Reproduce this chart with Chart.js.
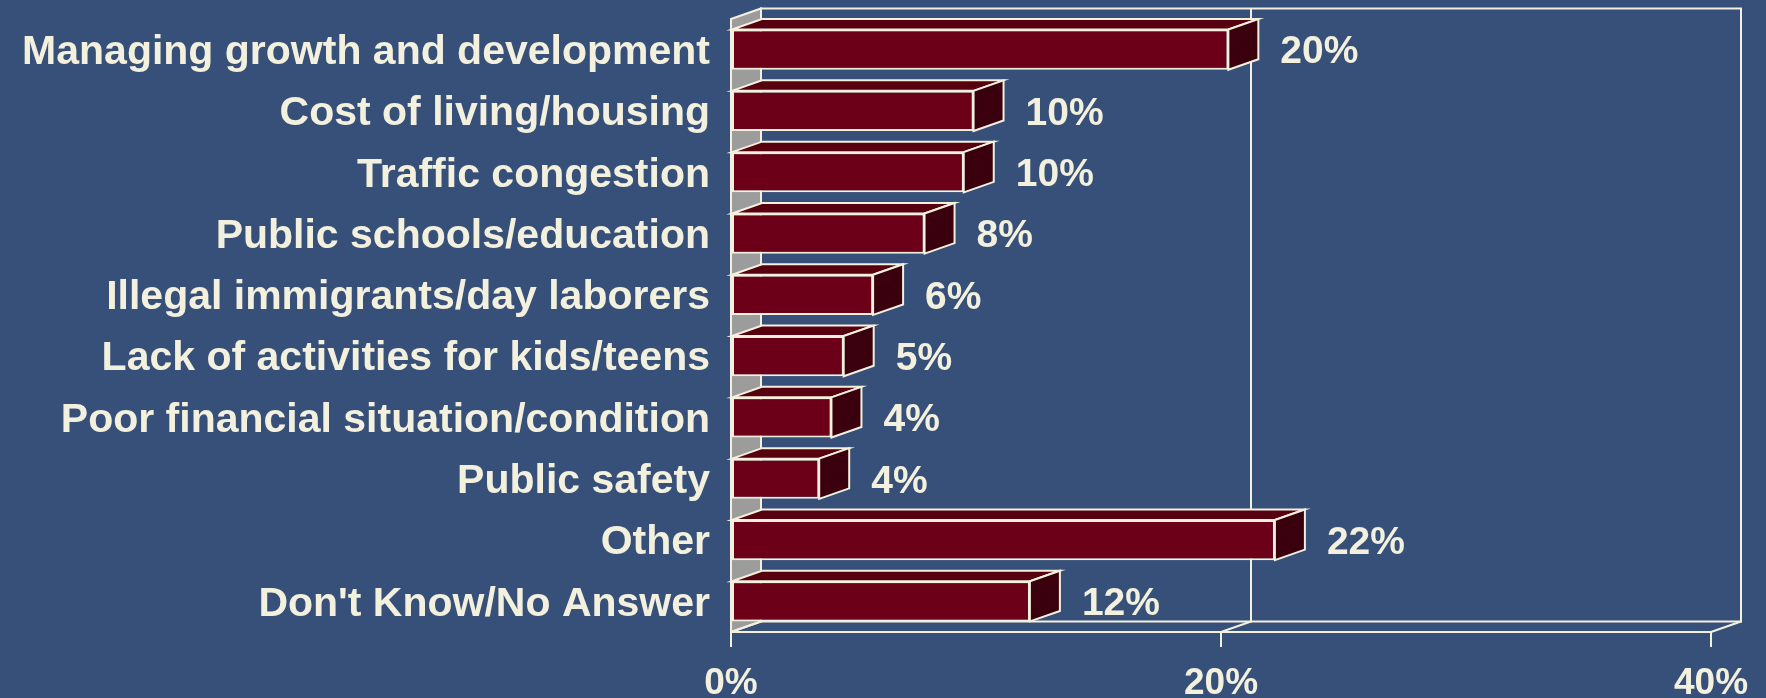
<!DOCTYPE html>
<html>
<head>
<meta charset="utf-8">
<script src="https://cdn.jsdelivr.net/npm/chart.js@4"></script>
<style>
  html, body { margin: 0; padding: 0; background: #36507a; }
  #wrap { width: 1766px; height: 698px; }
</style>
</head>
<body>
<div id="wrap"><canvas id="issuesChart"></canvas></div>
<script>
// Categories (top to bottom) and share of answers in percent
const categories = [
    'Managing growth and development',
    'Cost of living/housing',
    'Traffic congestion',
    'Public schools/education',
    'Illegal immigrants/day laborers',
    'Lack of activities for kids/teens',
    'Poor financial situation/condition',
    'Public safety',
    'Other',
    "Don't Know/No Answer"
];
const shares = [20.3, 9.9, 9.5, 7.9, 5.8, 4.6, 4.1, 3.6, 22.2, 12.2];
const axisTicks = [0, 20, 40];

const cream = '#f3f0de';
const depthX = 30;   // 3d depth offset, px
const depthY = 10.5;
const fontFamily = '"Liberation Sans", Arial, sans-serif';

// back wall, gray side wall, floor and grid lines
const wallsPlugin = {
    id: 'walls',
    beforeDatasetsDraw(chart) {
        const ctx = chart.ctx;
        const area = chart.chartArea;
        const xs = chart.scales.x;
        ctx.save();
        ctx.lineWidth = 2;
        ctx.strokeStyle = cream;

        // left (gray) wall
        ctx.beginPath();
        ctx.moveTo(area.left, area.top);
        ctx.lineTo(area.left + depthX, area.top - depthY);
        ctx.lineTo(area.left + depthX, area.bottom - depthY);
        ctx.lineTo(area.left, area.bottom);
        ctx.closePath();
        ctx.fillStyle = '#9c9c9c';
        ctx.fill();
        ctx.stroke();

        // back wall
        ctx.strokeRect(area.left + depthX, area.top - depthY,
            area.right - area.left, area.bottom - area.top);

        // grid lines on back wall + floor
        axisTicks.forEach(v => {
            const px = xs.getPixelForValue(v);
            ctx.beginPath();
            ctx.moveTo(px, area.bottom);
            ctx.lineTo(px + depthX, area.bottom - depthY);
            ctx.lineTo(px + depthX, area.top - depthY);
            ctx.stroke();
        });

        // floor front edge
        ctx.beginPath();
        ctx.moveTo(area.left, area.bottom);
        ctx.lineTo(area.right, area.bottom);
        ctx.stroke();
        ctx.restore();
    }
};

// top and side faces of the bars, plus value labels
const barsPlugin = {
    id: 'bars3d',
    afterDatasetsDraw(chart) {
        const ctx = chart.ctx;
        const meta = chart.getDatasetMeta(0);
        ctx.save();
        ctx.lineWidth = 2;
        ctx.strokeStyle = cream;
        meta.data.forEach((bar, i) => {
            const top = bar.y - bar.height / 2;
            const bottom = bar.y + bar.height / 2;

            // top face
            ctx.beginPath();
            ctx.moveTo(bar.base, top);
            ctx.lineTo(bar.base + depthX, top - depthY);
            ctx.lineTo(bar.x + depthX, top - depthY);
            ctx.lineTo(bar.x, top);
            ctx.closePath();
            ctx.fillStyle = '#560010';
            ctx.fill();
            ctx.stroke();

            // side face
            ctx.beginPath();
            ctx.moveTo(bar.x, top);
            ctx.lineTo(bar.x + depthX, top - depthY);
            ctx.lineTo(bar.x + depthX, bottom - depthY);
            ctx.lineTo(bar.x, bottom);
            ctx.closePath();
            ctx.fillStyle = '#3b000e';
            ctx.fill();
            ctx.stroke();

            // value label
            ctx.fillStyle = cream;
            ctx.font = 'bold 39px ' + fontFamily;
            ctx.textAlign = 'left';
            ctx.textBaseline = 'middle';
            ctx.fillText(Math.round(shares[i]) + '%', bar.x + depthX + 22, bar.y + 3);
        });
        ctx.restore();
    }
};

const ctx = document.getElementById('issuesChart').getContext('2d');
const issuesChart = new Chart(ctx, {
    type: 'bar',
    data: {
        labels: categories,
        datasets: [{
            data: shares,
            backgroundColor: '#6d0019',
            borderColor: cream,
            borderWidth: 2,
            borderSkipped: false,
            barPercentage: 0.656,
            categoryPercentage: 1
        }]
    },
    options: {
        indexAxis: 'y',
        responsive: true,
        maintainAspectRatio: false,
        animation: false,
        layout: {
            padding: { top: 19, right: 55, left: 0, bottom: 0 }
        },
        scales: {
            x: {
                min: 0,
                max: 40,
                afterBuildTicks(scale) {
                    scale.ticks = axisTicks.map(v => ({ value: v }));
                },
                afterFit(scale) {
                    scale.height = 66;
                    scale.paddingLeft = 0;
                    scale.paddingRight = 0;
                },
                ticks: {
                    color: cream,
                    padding: 15,
                    font: { family: fontFamily, size: 37, weight: 'bold' },
                    callback: v => v + '%'
                },
                grid: {
                    drawOnChartArea: false,
                    drawTicks: true,
                    tickLength: 15,
                    color: cream,
                    lineWidth: 2
                },
                border: { display: false }
            },
            y: {
                afterFit(scale) {
                    scale.width = 731;
                    scale.paddingTop = 0;
                    scale.paddingBottom = 0;
                },
                ticks: {
                    color: cream,
                    padding: 21,
                    labelOffset: 3,
                    font: { family: fontFamily, size: 41, weight: 'bold' }
                },
                grid: { display: false, drawTicks: false },
                border: { display: false }
            }
        },
        plugins: {
            legend: { display: false },
            tooltip: { enabled: false }
        }
    },
    plugins: [wallsPlugin, barsPlugin]
});
</script>
</body>
</html>
